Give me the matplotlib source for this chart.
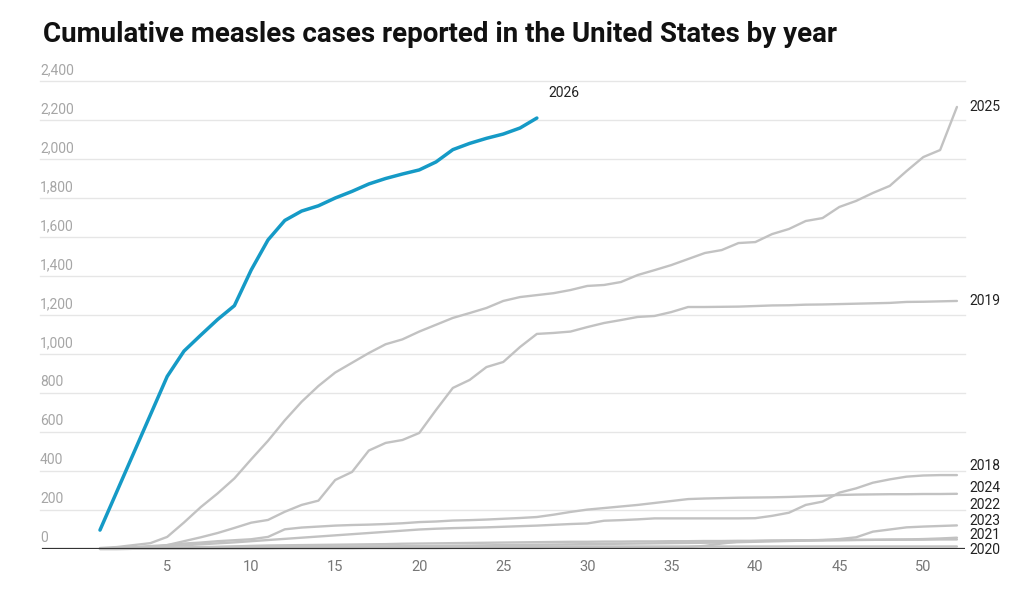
import matplotlib
matplotlib.use("Agg")
import matplotlib.pyplot as plt
import matplotlib.transforms as mtransforms

plt.rcParams['font.family'] = ['Roboto', 'DejaVu Sans']

TITLE = "Cumulative measles cases reported in the United States by year"

y_ticks = [0, 200, 400, 600, 800, 1000, 1200, 1400, 1600, 1800, 2000, 2200, 2400]
x_ticks = [5, 10, 15, 20, 25, 30, 35, 40, 45, 50]

# cumulative cases per week, week 1 first
cases_2026 = [97, 294, 491, 688, 885, 1015, 1097, 1177, 1248, 1431, 1585, 1685, 1733, 1760,
              1800, 1834, 1872, 1900, 1923, 1944, 1985, 2048, 2080, 2106, 2128, 2159, 2210]
cases_2025 = [5, 10, 20, 30, 62, 136, 215, 285, 362, 460, 555, 660, 755, 836, 905, 955, 1005,
              1050, 1075, 1115, 1150, 1185, 1210, 1236, 1272, 1292, 1302, 1312, 1328, 1349,
              1354, 1369, 1405, 1430, 1456, 1487, 1518, 1533, 1569, 1574, 1615, 1641, 1682,
              1697, 1754, 1785, 1826, 1862, 1938, 2010, 2046, 2267]
cases_2019 = [2, 3, 5, 8, 20, 40, 60, 82, 108, 135, 149, 191, 226, 248, 354, 395, 505, 544,
              559, 595, 713, 826, 867, 933, 959, 1036, 1103, 1108, 1115, 1138, 1159, 1174,
              1190, 1195, 1215, 1241, 1241, 1242, 1243, 1246, 1249, 1250, 1253, 1254, 1256,
              1258, 1260, 1262, 1267, 1268, 1270, 1272]
cases_2018 = [3, 5, 8, 12, 15, 19, 24, 29, 34, 40, 46, 52, 58, 64, 70, 76, 82, 88, 94, 100,
              104, 107, 109, 111, 114, 117, 120, 124, 128, 131, 145, 148, 152, 157, 157, 157,
              157, 157, 157, 158, 170, 186, 226, 243, 289, 311, 340, 357, 371, 377, 379, 379]
cases_2024 = [2, 5, 9, 15, 20, 28, 33, 40, 45, 50, 62, 101, 110, 115, 120, 123, 125, 128, 132,
              138, 141, 146, 148, 151, 155, 159, 164, 176, 190, 202, 210, 218, 226, 236, 246,
              256, 259, 261, 263, 264, 265, 267, 270, 273, 277, 279, 280, 281, 281, 282, 282, 283]
cases_2022 = [0, 0, 1, 1, 2, 3, 3, 4, 5, 6, 7, 8, 9, 10, 10, 11, 12, 13, 14, 15, 16, 17, 18,
              19, 20, 21, 22, 23, 24, 25, 26, 27, 28, 29, 30, 31, 32, 33, 35, 37, 39, 41, 43,
              46, 51, 60, 89, 100, 111, 115, 118, 121]
cases_2023 = [1, 2, 3, 4, 5, 6, 8, 10, 13, 16, 18, 19, 20, 21, 22, 23, 24, 25, 27, 28, 29, 30,
              31, 32, 33, 34, 35, 36, 37, 37, 38, 38, 39, 39, 40, 40, 41, 41, 42, 42, 43, 43,
              44, 44, 45, 46, 47, 48, 49, 51, 54, 58]
cases_2021 = [0, 0, 1, 1, 1, 1, 2, 2, 2, 2, 2, 3, 3, 3, 3, 3, 4, 4, 4, 4, 4, 5, 5, 5, 5, 5, 5,
              6, 6, 6, 6, 6, 7, 7, 8, 10, 16, 28, 38, 41, 43, 44, 45, 46, 46, 47, 47, 48, 48,
              48, 49, 49]
cases_2020 = [1, 2, 3, 5, 6, 8, 10, 11, 12, 12, 13, 13, 13, 13, 13, 13, 13, 13, 13, 13, 13,
              13, 13, 13, 13, 13, 13, 13, 13, 13, 13, 13, 13, 13, 13, 13, 13, 13, 13, 13, 13,
              13, 13, 13, 13, 13, 13, 13, 13, 13, 13, 13]

past_years = {
    "2025": cases_2025, "2019": cases_2019, "2018": cases_2018, "2024": cases_2024,
    "2022": cases_2022, "2023": cases_2023, "2021": cases_2021, "2020": cases_2020,
}

# vertical nudge (points) of the end labels so they don't collide
label_nudge = {"2025": 0, "2019": 0, "2018": 6.5, "2024": 4.3, "2022": 15,
               "2023": 12, "2021": 3.5, "2020": -2.5}

GRAY = "#c2c2c2"
BLUE = "#159ac6"

fig = plt.figure(figsize=(10.24, 5.91), dpi=100)
ax = fig.add_axes([40 / 1024, 42 / 591, 925 / 1024, 468 / 591])
ax.set_xlim(-2.57, 52.48)
ax.set_ylim(0, 2400)

for tick in y_ticks[1:]:
    ax.axhline(tick, color="#e6e6e6", lw=1, zorder=0, clip_on=False)
ax.axhline(0, xmin=3 / 925, color="#333333", lw=1.6, zorder=4)

label_tr = mtransforms.blended_transform_factory(ax.transAxes, ax.transData)
for tick in y_ticks:
    ax.annotate(f"{tick:,}", xy=(0, tick), xycoords=label_tr, xytext=(0, 3),
                textcoords="offset points", ha="left", va="bottom",
                fontsize=10, color="#a6a6a6")

for year, vals in past_years.items():
    weeks = range(1, len(vals) + 1)
    ax.plot(weeks, vals, color=GRAY, lw=1.7, zorder=2, clip_on=False,
            solid_joinstyle="round", solid_capstyle="round")
    ax.annotate(year, xy=(len(vals), vals[-1]), xytext=(9, label_nudge[year]),
                textcoords="offset points", ha="left", va="center",
                fontsize=10, color="#222222", annotation_clip=False)

weeks_2026 = range(1, len(cases_2026) + 1)
ax.plot(weeks_2026, cases_2026, color=BLUE, lw=2.5, zorder=3, clip_on=False,
        solid_joinstyle="round", solid_capstyle="round")
ax.annotate("2026", xy=(len(cases_2026), cases_2026[-1]), xytext=(8, 18),
            textcoords="offset points", ha="left", va="center",
            fontsize=10, color="#222222", annotation_clip=False)

ax.set_xticks(x_ticks)
ax.set_xticklabels([str(x) for x in x_ticks], fontsize=10.5, color="#777777")
ax.tick_params(axis="x", length=0, pad=8)
ax.set_yticks([])
for side in ax.spines.values():
    side.set_visible(False)

fig.text(43 / 1024, 1 - 35 / 591, TITLE, fontsize=20, fontweight="bold",
         color="#111111", va="center", ha="left")

fig.savefig("out.png", dpi=100)
